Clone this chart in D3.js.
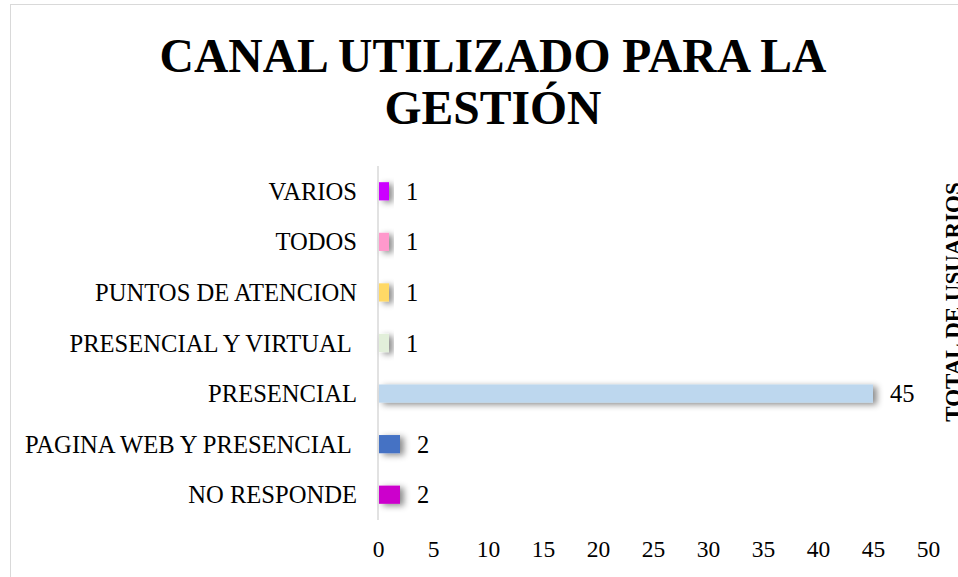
<!DOCTYPE html>
<html>
<head>
<meta charset="utf-8">
<script src="https://cdn.jsdelivr.net/npm/d3@7"></script>
<style>
  body { margin: 0; background: #fff; }
  svg { display: block; font-family: "Liberation Serif", "Times New Roman", serif; }
  .lbl { white-space: pre; }
</style>
</head>
<body>
<div id="chart"></div>
<script>
// data, top bar first
const categories = ["VARIOS", "TODOS", "PUNTOS DE ATENCION", "PRESENCIAL Y VIRTUAL ",
  "PRESENCIAL", "PAGINA WEB Y PRESENCIAL ", "NO RESPONDE"]
const values = [1, 1, 1, 1, 45, 2, 2]
const barColors = ["#cc00ff", "#ff99cc", "#ffd966", "#e2efda", "#bdd7ee", "#4472c4", "#cc00cc"]
const xTicks = [0, 5, 10, 15, 20, 25, 30, 35, 40, 45, 50]
const titleLines = ["CANAL UTILIZADO PARA LA", "GESTIÓN"]
const axisTitle = "TOTAL DE USUARIOS"

const W = 958, H = 577

const svg = d3.select("#chart").append("svg")
  .attr("width", W)
  .attr("height", H)

// soft shadow like the office chart
const defs = svg.append("defs")
defs.append("filter")
  .attr("id", "shadow")
  .attr("x", "-50%").attr("y", "-50%")
  .attr("width", "200%").attr("height", "200%")
  .append("feDropShadow")
  .attr("dx", 4).attr("dy", 2)
  .attr("stdDeviation", 3)
  .attr("flood-color", "#000")
  .attr("flood-opacity", 0.45)

// chart border
svg.append("rect")
  .attr("x", 10.5).attr("y", 4.5)
  .attr("width", 1000).attr("height", 1000)
  .attr("fill", "none")
  .attr("stroke", "#d9d9d9")

//scales
const xScale = d3.scaleLinear()
  .domain([0, 50])
  .range([378, 928])

const yScale = d3.scaleBand()
  .domain(categories)
  .range([166, 520])
  .paddingInner(0.64)
  .paddingOuter(0.32)

// title
svg.append("text")
  .attr("text-anchor", "middle")
  .attr("font-size", 47.6)
  .attr("font-weight", "bold")
  .selectAll("tspan")
  .data(titleLines)
  .join("tspan")
  .attr("x", 493)
  .attr("y", (d, i) => 72 + i * 52)
  .text(d => d)

// vertical axis line
svg.append("line")
  .attr("x1", xScale(0)).attr("x2", xScale(0))
  .attr("y1", 166).attr("y2", 520)
  .attr("stroke", "#d9d9d9")
  .attr("stroke-width", 1.5)

// bars
svg.append("g")
  .selectAll("rect")
  .data(categories)
  .join("rect")
  .attr("x", xScale(0) + 1)
  .attr("y", d => yScale(d))
  .attr("width", (d, i) => xScale(values[i]) - xScale(0) - 1)
  .attr("height", yScale.bandwidth())
  .attr("fill", (d, i) => barColors[i])
  .attr("filter", "url(#shadow)")

// value labels
svg.append("g")
  .attr("font-size", 24.5)
  .selectAll("text")
  .data(categories)
  .join("text")
  .attr("x", (d, i) => xScale(values[i]) + 17)
  .attr("y", d => yScale(d) + yScale.bandwidth() / 2)
  .attr("dy", "0.35em")
  .text((d, i) => values[i])

// category labels
svg.append("g")
  .attr("font-size", 24.6)
  .attr("text-anchor", "end")
  .selectAll("text")
  .data(categories)
  .join("text")
  .attr("class", "lbl")
  .attr("x", 357)
  .attr("y", d => yScale(d) + yScale.bandwidth() / 2)
  .attr("dy", "0.35em")
  .text(d => d)

// x axis ticks (no line)
const xAxis = d3.axisBottom(xScale)
  .tickValues(xTicks)
  .tickSize(0)
  .tickPadding(0)
const gx = svg.append("g")
  .attr("transform", "translate(0,540)")
  .call(xAxis)
gx.select(".domain").remove()
gx.selectAll("text")
  .attr("font-family", "'Liberation Serif', 'Times New Roman', serif")
  .attr("font-size", 23.5)
  .attr("fill", "#000")
  .attr("dy", "0.71em")

// axis title on the right, partly cut by the edge (as in the source)
svg.append("text")
  .attr("transform", "translate(961,302) rotate(-90)")
  .attr("text-anchor", "middle")
  .attr("font-size", 23)
  .attr("font-weight", "bold")
  .text(axisTitle)
</script>
</body>
</html>
